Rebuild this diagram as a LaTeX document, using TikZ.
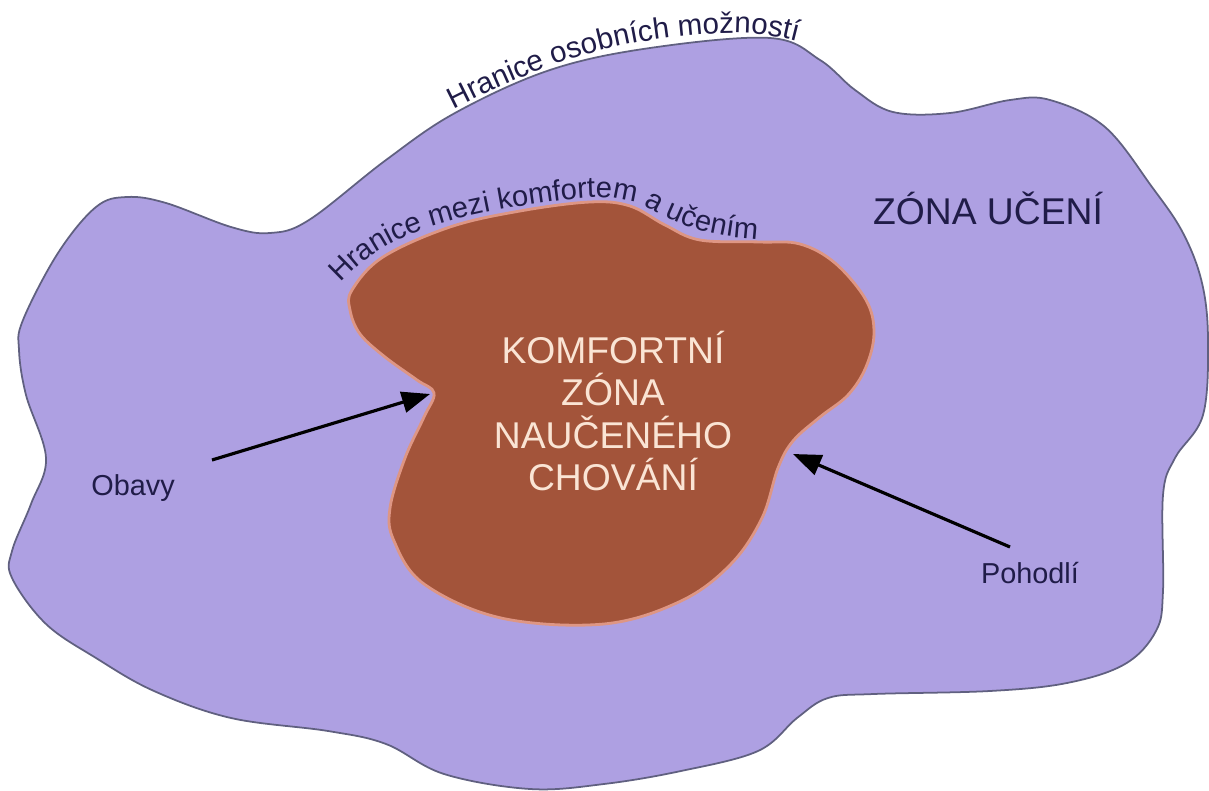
\documentclass[tikz,border=0pt]{standalone}
\usepackage{fontspec}
\setmainfont{Liberation Sans}
\usetikzlibrary{arrows.meta, decorations.text}

\definecolor{lavender}{RGB}{174,160,226}
\definecolor{rim}{RGB}{96,96,128}
\definecolor{rust}{RGB}{163,84,58}
\definecolor{rustedge}{RGB}{222,150,132}
\definecolor{cream}{RGB}{250,228,212}
\definecolor{ink}{RGB}{32,28,72}

\begin{document}
\begin{tikzpicture}[
  x=0.01cm, y=-0.01cm,
  every node/.style={font=\fontsize{8.2}{10}\selectfont, text=ink},
  big/.style={font=\fontsize{10.6}{12}\selectfont},
  arr/.style={-{Triangle[length=8pt, width=6pt]}, line width=0.9pt, black},
  curved/.style={decorate, decoration={text along path, text align=left,
                 text color=ink}}
]
\useasboundingbox (0,0) rectangle (1209,791);

%% ---- learning zone (outer blob) ---------------------------------
\filldraw[fill=lavender, draw=rim, line width=0.5pt]
  plot[smooth cycle, tension=0.6] coordinates {
  (127,197) (166,203) (231,227) (270,233) (309,220) (386,160) (455,113)
  (550,70) (650,48) (770,38) (820,60) (855,90) (893,112) (950,113)
  (1010,100) (1050,100) (1105,127) (1152,187) (1183,233) (1202,283)
  (1208,340) (1203,415) (1175,458) (1163,495) (1163,591) (1156,631)
  (1125,664) (1067,683) (990,691) (874,694) (828,698) (797,718)
  (758,751) (681,771) (604,784) (530,789) (444,774) (386,744) (328,731)
  (231,718) (154,691) (96,658) (46,624) (12,578) (12,551) (31,504)
  (46,458) (26,395) (19,350) (23,320) (58,253) (96,207)};

%% ---- comfort zone (inner blob) ----------------------------------
\filldraw[fill=rust, draw=rustedge, line width=0.8pt]
  plot[smooth cycle, tension=0.6] coordinates {
  (352,290) (383,257) (450,227) (520,211) (590,202) (630,206) (665,225)
  (700,240) (760,242) (800,244) (835,263) (866,300) (874,333) (866,367)
  (848,395) (820,417) (793,441) (778,468) (762,518) (731,564) (681,601)
  (604,624) (501,618) (424,584) (394,541) (390,508) (405,458) (424,417)
  (434,393) (417,380) (385,357) (360,334) (350,310)};

%% ---- boundary labels --------------------------------------------
\begin{scope}[x=1cm, y=-1cm]
\path[curved, decoration={text={|\fontsize{8.4}{10}\selectfont|Hranice osobních možností}}]
  (4.53,1.09) .. controls (5.2,0.75) and (5.9,0.45) .. (6.83,0.36)
  .. controls (7.3,0.31) and (7.6,0.32) .. (7.95,0.41);
\path[curved, decoration={text={|\fontsize{8.3}{10}\selectfont|Hranice mezi komfortem a učením}}]
  (3.40,2.83) .. controls (3.75,2.45) and (4.2,2.22) .. (5.2,2.06)
  .. controls (5.9,1.95) and (6.2,1.93) .. (6.5,2.09)
  .. controls (6.8,2.25) and (7.1,2.37) .. (7.6,2.39);
\end{scope}

%% ---- zone names -------------------------------------------------
\node[big] (zona) at (988,208) {ZÓNA UČENÍ};
\node[big, text=cream, align=center] (komfort) at (613,411)
  {KOMFORTNÍ\\ZÓNA\\NAUČENÉHO\\CHOVÁNÍ};

%% ---- arrows -----------------------------------------------------
\node (obavy)   at (133,488)  {Obavy};
\node (pohodli) at (1030,573) {Pohodlí};

\coordinate (otail) at (212,460);
\coordinate (otip)  at (430,394);
\coordinate (ptail) at (1010,547);
\coordinate (ptip)  at (793,454);

\draw[arr] (otail) -- (otip);
\draw[arr] (ptail) -- (ptip);

\end{tikzpicture}
\end{document}
